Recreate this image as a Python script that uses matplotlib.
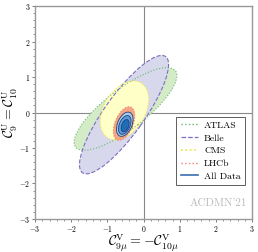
import numpy as np
import matplotlib
matplotlib.use('Agg')
import matplotlib.pyplot as plt
from matplotlib.patches import Ellipse
from matplotlib.lines import Line2D

plt.rcParams['font.family'] = 'serif'
plt.rcParams['font.serif'] = ['cmr10']
plt.rcParams['mathtext.fontset'] = 'cm'
plt.rcParams['axes.formatter.use_mathtext'] = True

# single-experiment 1 sigma regions: center x, center y, width, height, angle
names = ['ATLAS', 'Belle', 'CMS', 'LHCb']
cx = [-0.5, -0.54, -0.53, -0.54]
cy = [0.1, -0.06, 0.06, -0.31]
wd = [3.5, 4.0, 1.8, 1.0]
ht = [1.12, 1.1, 1.15, 0.5]
ang = [38, 55, 60, 68]
fills = ['#d3ebc6', '#d8d8ec', '#ffffc8', '#f4a582']
edges = ['#6ab86a', '#7b6fc0', '#f0e442', '#f08070']
styles = [':', '--', ':', ':']

# combined fit: 3, 2, 1 sigma
all_cx = [-0.52, -0.52, -0.51]
all_cy = [-0.33, -0.35, -0.37]
all_w = [0.72, 0.56, 0.36]
all_h = [0.40, 0.30, 0.19]
all_ang = [68, 68, 70]
all_col = ['#a9cce8', '#5b9bd5', '#1f6db5']

fig = plt.figure(figsize=(2.58, 2.52), dpi=100)
ax = fig.add_axes([0.136, 0.131, 0.841, 0.845])

for i in [0, 1, 2]:
    ax.add_patch(Ellipse((cx[i], cy[i]), wd[i], ht[i], angle=ang[i],
                         facecolor=fills[i], edgecolor='none', zorder=1 + i))
for i in [0, 1, 2]:
    ax.add_patch(Ellipse((cx[i], cy[i]), wd[i], ht[i], angle=ang[i],
                         facecolor='none', edgecolor=edges[i], linestyle=styles[i],
                         linewidth=0.8, zorder=4))
ax.add_patch(Ellipse((cx[3], cy[3]), wd[3], ht[3], angle=ang[3],
                     facecolor=fills[3], edgecolor=edges[3], linestyle=':',
                     linewidth=0.8, zorder=5))
for k in range(3):
    ax.add_patch(Ellipse((all_cx[k], all_cy[k]), all_w[k], all_h[k], angle=all_ang[k],
                         facecolor=all_col[k], edgecolor='#1f3f7f', linewidth=0.6,
                         zorder=6 + k))

ax.axhline(0, color='#888888', linewidth=0.8, zorder=0)
ax.axvline(0, color='#888888', linewidth=0.8, zorder=0)

ax.set_xlim((-3, 3))
ax.set_ylim((-3, 3))
ax.set_xticks(np.arange(-3, 4, 1))
ax.set_yticks(np.arange(-3, 4, 1))
ax.set_xticks(np.arange(-3, 3.01, 0.2), minor=True)
ax.set_yticks(np.arange(-3, 3.01, 0.2), minor=True)
ax.tick_params(labelsize=5.5, length=2.5, width=0.6, color='#666666', pad=1)
ax.tick_params(which='minor', length=1.3, width=0.5, color='#666666')
for s in ax.spines.values():
    s.set_color('#999999')
    s.set_linewidth(1.0)

ax.set_xlabel(r'$\mathcal{C}_{9\mu}^{\rm V} = -\mathcal{C}_{10\mu}^{\rm V}$', fontsize=10, labelpad=-1)
ax.set_ylabel(r'$\mathcal{C}_{9}^{\rm U} = \mathcal{C}_{10}^{\rm U}$', fontsize=10, labelpad=-1)

handles = [Line2D([], [], color=edges[0], linestyle=':', linewidth=1),
           Line2D([], [], color=edges[1], linestyle='--', linewidth=0.9),
           Line2D([], [], color=edges[2], linestyle=':', linewidth=1.2),
           Line2D([], [], color=edges[3], linestyle=':', linewidth=1),
           Line2D([], [], color='#3a6db0', linestyle='-', linewidth=1.2)]
leg = ax.legend(handles, names + ['All Data'], loc='center right',
                bbox_to_anchor=(0.99, 0.32), fontsize=7, handlelength=1.8,
                handletextpad=0.6, labelspacing=0.4, borderpad=0.45,
                fancybox=False, framealpha=1)
leg.get_frame().set_edgecolor('#444444')
leg.get_frame().set_linewidth(0.6)

ax.text(0.975, 0.05, "ACDMN'21", transform=ax.transAxes, ha='right', va='bottom',
        fontsize=8, color='#bbbbbb', family=['cmr10', 'DejaVu Serif'])

fig.savefig('out.png', dpi=100)
